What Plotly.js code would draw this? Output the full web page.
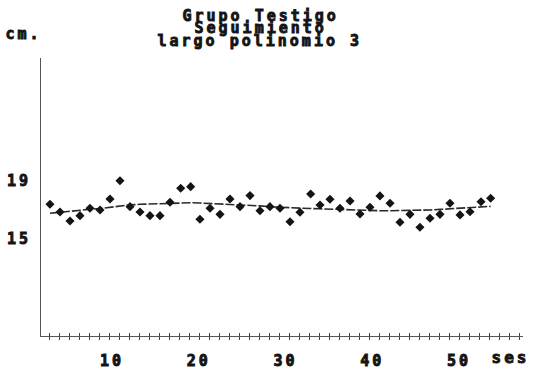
<!DOCTYPE html>
<html>
<head>
<meta charset="utf-8">
<script src="https://cdn.plot.ly/plotly-3.0.1.min.js"></script>
<style>
  html, body { margin: 0; padding: 0; background: #fff; }
  #chart { width: 539px; height: 373px; }
  .main-svg text { letter-spacing: 3px !important; font-weight: 700 !important;
    stroke: #141414 !important; stroke-width: 0.9px !important; }
</style>
</head>
<body>
<div id="chart"></div>
<script>
const sessions = [2.85, 4.01, 5.16, 6.31, 7.46, 8.62, 9.77, 10.92, 12.08, 13.23,
  14.38, 15.53, 16.69, 17.92, 19.07, 20.14, 21.30, 22.45, 23.60, 24.76,
  25.91, 27.06, 28.21, 29.37, 30.52, 31.67, 32.90, 33.98, 35.13, 36.28,
  37.44, 38.59, 39.74, 40.89, 42.05, 43.20, 44.35, 45.50, 46.66, 47.81,
  48.96, 50.12, 51.27, 52.54, 53.65];
// Measured length (cm)
const lengthCm = [17.39, 16.86, 16.24, 16.61, 17.12, 17.00, 17.76, 19.02, 17.23, 16.86,
  16.61, 16.61, 17.53, 18.50, 18.61, 16.36, 17.12, 16.70, 17.76, 17.23,
  17.99, 16.95, 17.23, 17.12, 16.19, 16.84, 18.10, 17.34, 17.74, 17.12,
  17.62, 16.72, 17.19, 17.97, 17.46, 16.15, 16.70, 15.81, 16.43, 16.70,
  17.46, 16.66, 16.88, 17.57, 17.81];
// 3rd-degree polynomial trend
const trendCm = [16.77, 16.85, 16.92, 17.00, 17.05, 17.10, 17.18, 17.30, 17.35, 17.39,
  17.42, 17.45, 17.48, 17.50, 17.50, 17.48, 17.45, 17.42, 17.40, 17.36,
  17.32, 17.28, 17.22, 17.18, 17.15, 17.12, 17.10, 17.08, 17.05, 17.03,
  17.00, 16.98, 16.96, 16.95, 16.95, 16.95, 16.96, 16.98, 17.00, 17.04,
  17.08, 17.12, 17.16, 17.20, 17.25];
const yTickVals = [15, 19];
const xTickVals = [10, 20, 30, 40, 50];
const titleLines = ["Grupo Testigo", "Seguimiento", "largo polinomio 3"];

const FONT = "DejaVu Sans Mono, monospace";
const INK = "#141414";

const traces = [
  {
    x: sessions, y: trendCm, type: "scatter", mode: "lines",
    line: { color: "#2a2a2a", width: 1.6, dash: "9px,2px" },
    hoverinfo: "skip"
  },
  {
    x: sessions, y: lengthCm, type: "scatter", mode: "markers",
    marker: { symbol: "diamond", size: 7, color: INK }
  },
  // empty traces so the two tick-mark axes get drawn
  { x: [], y: [], type: "scatter", mode: "markers", xaxis: "x2", yaxis: "y" },
  { x: [], y: [], type: "scatter", mode: "markers", xaxis: "x3", yaxis: "y" }
];

const xRange = [1.816, 57.38];
const tickStep = 1.1527;

function tickAxis(dir) {
  return {
    overlaying: "x", anchor: "y", side: "bottom",
    range: xRange, autorange: false, showgrid: false, zeroline: false, showline: false,
    showticklabels: false,
    tickmode: "linear", tick0: sessions[0], dtick: tickStep,
    ticks: dir, ticklen: 3, tickcolor: "#444", tickwidth: 1
  };
}

const layout = {
  width: 539, height: 373,
  margin: { l: 41, r: 16, t: 58, b: 37 },
  paper_bgcolor: "#fff", plot_bgcolor: "#fff",
  showlegend: false,
  xaxis: {
    range: xRange, showgrid: false, zeroline: false,
    showline: true, linecolor: "#555", linewidth: 1,
    tickmode: "array", tickvals: xTickVals, ticktext: xTickVals.map(String),
    ticks: "", ticklabelstandoff: 11,
    tickfont: { family: FONT, size: 15, color: INK, weight: 700 }
  },
  xaxis2: tickAxis("inside"),
  xaxis3: tickAxis("outside"),
  yaxis: {
    range: [8.31, 27.48], showgrid: false, zeroline: false,
    showline: true, linecolor: "#555", linewidth: 1,
    tickmode: "array", tickvals: yTickVals, ticktext: yTickVals.map(String),
    ticks: "", ticklabelstandoff: 6,
    tickfont: { family: FONT, size: 15, color: INK, weight: 700 }
  },
  annotations: [
    { text: titleLines[0], xref: "paper", yref: "paper", x: 0.455, y: 1.152,
      xanchor: "center", yanchor: "middle", showarrow: false,
      font: { family: FONT, size: 15, color: INK, weight: 700 } },
    { text: titleLines[1], xref: "paper", yref: "paper", x: 0.455, y: 1.107,
      xanchor: "center", yanchor: "middle", showarrow: false,
      font: { family: FONT, size: 15, color: INK, weight: 700 } },
    { text: titleLines[2], xref: "paper", yref: "paper", x: 0.455, y: 1.062,
      xanchor: "center", yanchor: "middle", showarrow: false,
      font: { family: FONT, size: 15, color: INK, weight: 700 } },
    { text: "cm.", xref: "paper", yref: "paper", x: -0.036, y: 1.085,
      xanchor: "center", yanchor: "middle", showarrow: false,
      font: { family: FONT, size: 15, color: INK, weight: 700 } },
    { text: "ses", xref: "paper", yref: "paper", x: 0.975, y: -0.078,
      xanchor: "center", yanchor: "middle", showarrow: false,
      font: { family: FONT, size: 16, color: INK, weight: 700 } }
  ]
};

Plotly.newPlot("chart", traces, layout, { displayModeBar: false, staticPlot: true });
</script>
</body>
</html>
